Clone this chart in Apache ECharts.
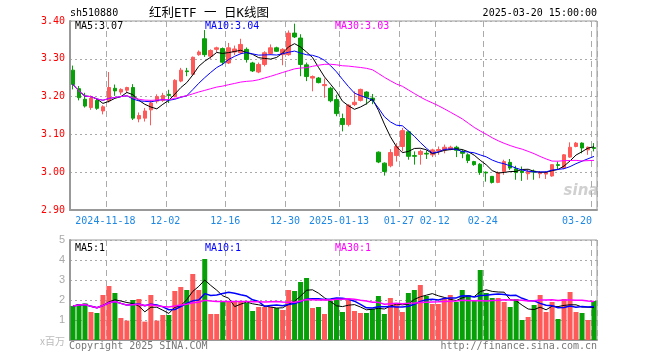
<!DOCTYPE html>
<html><head><meta charset="utf-8">
<script src="https://cdn.jsdelivr.net/npm/echarts@6/dist/echarts.min.js"></script>
<style>html,body{margin:0;padding:0;background:#fff}#c{width:660px;height:360px}</style>
</head><body><div id="c"></div>
<script>
const dates = [
'2024-11-08','2024-11-11','2024-11-12','2024-11-13','2024-11-14','2024-11-15','2024-11-18','2024-11-19','2024-11-20','2024-11-21',
'2024-11-22','2024-11-25','2024-11-26','2024-11-27','2024-11-28','2024-11-29','2024-12-02','2024-12-03','2024-12-04','2024-12-05',
'2024-12-06','2024-12-09','2024-12-10','2024-12-11','2024-12-12','2024-12-13','2024-12-16','2024-12-17','2024-12-18','2024-12-19',
'2024-12-20','2024-12-23','2024-12-24','2024-12-25','2024-12-26','2024-12-27','2024-12-30','2024-12-31','2025-01-02','2025-01-03',
'2025-01-06','2025-01-07','2025-01-08','2025-01-09','2025-01-10','2025-01-13','2025-01-14','2025-01-15','2025-01-16','2025-01-17',
'2025-01-20','2025-01-21','2025-01-22','2025-01-23','2025-01-24','2025-01-27','2025-02-05','2025-02-06','2025-02-07','2025-02-10',
'2025-02-11','2025-02-12','2025-02-13','2025-02-14','2025-02-17','2025-02-18','2025-02-19','2025-02-20','2025-02-21','2025-02-24',
'2025-02-25','2025-02-26','2025-02-27','2025-02-28','2025-03-03','2025-03-04','2025-03-05','2025-03-06','2025-03-07','2025-03-10',
'2025-03-11','2025-03-12','2025-03-13','2025-03-14','2025-03-17','2025-03-18','2025-03-19','2025-03-20'];

const openP = [
3.270,3.221,3.193,3.171,3.190,3.162,3.189,3.222,3.212,3.217,
3.224,3.141,3.143,3.165,3.188,3.190,3.206,3.200,3.241,3.268,
3.259,3.311,3.353,3.307,3.325,3.327,3.289,3.318,3.316,3.325,
3.289,3.265,3.285,3.314,3.329,3.311,3.311,3.368,3.355,3.284,
3.249,3.249,3.229,3.222,3.192,3.142,3.126,3.179,3.190,3.212,
3.196,3.053,3.024,3.017,3.044,3.068,3.107,3.044,3.047,3.050,
3.046,3.056,3.059,3.061,3.066,3.055,3.046,3.028,3.021,3.000,
2.989,2.973,3.002,3.026,3.009,3.003,2.996,3.003,2.996,2.995,
2.990,3.020,3.011,3.040,3.068,3.077,3.059,3.065];

const closeP = [
3.232,3.197,3.175,3.196,3.169,3.173,3.224,3.215,3.219,3.224,
3.143,3.150,3.162,3.183,3.200,3.203,3.203,3.243,3.270,3.266,
3.304,3.318,3.311,3.322,3.329,3.291,3.329,3.326,3.338,3.298,
3.268,3.285,3.316,3.329,3.320,3.325,3.368,3.358,3.285,3.253,
3.253,3.237,3.232,3.189,3.155,3.126,3.177,3.185,3.219,3.198,
3.190,3.027,3.002,3.052,3.068,3.110,3.042,3.042,3.055,3.048,
3.059,3.060,3.066,3.066,3.058,3.050,3.031,3.020,2.999,2.998,
2.973,2.999,3.028,3.011,2.999,2.999,3.002,3.000,2.999,2.999,
3.020,3.018,3.046,3.066,3.077,3.064,3.066,3.063];

const lowP = [
3.219,3.190,3.171,3.165,3.165,3.153,3.184,3.202,3.205,3.210,
3.138,3.132,3.134,3.124,3.182,3.186,3.183,3.198,3.238,3.254,
3.257,3.308,3.305,3.300,3.318,3.283,3.286,3.310,3.312,3.290,
3.265,3.262,3.280,3.310,3.318,3.283,3.308,3.355,3.254,3.241,
3.214,3.235,3.197,3.185,3.148,3.108,3.121,3.175,3.187,3.179,
3.180,3.024,2.991,3.013,3.028,3.055,3.033,3.020,3.020,3.035,
3.040,3.046,3.050,3.058,3.040,3.037,3.024,3.017,2.993,2.975,
2.970,2.971,2.993,3.006,2.980,2.977,2.980,2.980,2.984,2.982,
2.988,3.006,3.008,3.038,3.066,3.050,3.046,3.055];

const highP = [
3.282,3.228,3.210,3.203,3.195,3.177,3.265,3.232,3.222,3.226,
3.233,3.158,3.170,3.190,3.206,3.210,3.218,3.246,3.276,3.276,
3.306,3.322,3.376,3.325,3.332,3.330,3.342,3.335,3.353,3.330,
3.292,3.290,3.320,3.338,3.332,3.328,3.375,3.393,3.365,3.290,
3.256,3.252,3.248,3.226,3.205,3.155,3.180,3.214,3.221,3.214,
3.207,3.055,3.026,3.061,3.077,3.117,3.110,3.055,3.060,3.058,
3.062,3.068,3.073,3.070,3.070,3.060,3.050,3.030,3.024,3.002,
2.990,3.002,3.033,3.035,3.017,3.015,3.006,3.007,3.003,3.002,
3.021,3.028,3.048,3.079,3.080,3.079,3.068,3.077];

// volume in millions (x百万)
const volume = [
1.70,1.80,1.83,1.40,1.35,2.25,2.70,2.35,1.10,0.97,
2.00,2.05,0.92,2.25,0.97,1.25,1.25,2.45,2.65,2.50,
3.30,2.50,4.05,1.30,1.30,1.90,1.90,1.95,1.90,1.85,
1.45,1.65,1.65,1.65,1.60,1.50,2.50,2.45,2.90,3.10,
1.60,1.65,1.30,1.95,2.05,1.40,2.00,1.45,1.35,1.35,
1.55,2.20,1.30,2.10,1.80,1.40,2.35,2.50,2.75,2.20,
1.80,1.80,2.10,2.25,1.90,2.50,2.25,1.95,3.50,2.35,
2.10,2.10,1.90,1.65,2.05,1.00,1.15,1.75,2.25,1.40,
1.90,1.05,2.05,2.40,1.40,1.35,1.00,1.95];

const tickDates  = ['2024-11-18','2024-12-02','2024-12-16','2024-12-30','2025-01-13','2025-01-27','2025-02-12','2025-02-24','2025-03-20'];
const tickLabels = ['2024-11-18','12-02','12-16','12-30','2025-01-13','01-27','02-12','02-24','03-20'];

const maLabelsPrice = ['MA5:3.07','MA10:3.04','MA30:3.03'];
const maLabelsVol = ['MA5:1','MA10:1','MA30:1'];

const UP = '#ff5a5a', DOWN = '#08a008';
const MONO = '"DejaVu Sans Mono", monospace';

function ma(arr, k) {
  return arr.map((_, i) => {
    const s = Math.max(0, i - k + 1);
    let t = 0;
    for (let j = s; j <= i; j++) t += arr[j];
    return +(t / (i - s + 1)).toFixed(4);
  });
}

const ohlc = dates.map((d, i) => [openP[i], closeP[i], lowP[i], highP[i]]);
const volItems = volume.map((v, i) => ({
  value: v,
  itemStyle: { color: closeP[i] >= openP[i] ? UP : DOWN }
}));
const tickIdx = new Set(tickDates.map(d => dates.indexOf(d)));
const labelMap = {};
tickDates.forEach((d, i) => { labelMap[d] = tickLabels[i]; });
const lastTick = tickDates[tickDates.length - 1];

const splitV = { show: true, interval: (i) => tickIdx.has(i), lineStyle: { color: '#aaa', type: [6, 4], width: 1 } };
const axisLineStyle = { show: true, lineStyle: { color: '#999', width: 2 } };

const chart = echarts.init(document.getElementById('c'), null, { renderer: 'canvas', width: 660, height: 360 });

function lineSeries(name, data, color, xi, yi, w) {
  return { name, type: 'line', data, xAxisIndex: xi, yAxisIndex: yi, symbol: 'none', smooth: false,
    lineStyle: { color, width: w }, z: 5, silent: true };
}

function txt(x, y, text, fill, align, font) {
  return { type: 'text', x, y, z: 100, style: { text, fill, font: font || ('10px ' + MONO),
    align, textAlign: align, verticalAlign: 'middle', textVerticalAlign: 'middle' } };
}

const option = {
  animation: false,
  backgroundColor: '#fff',
  grid: [
    { left: 70, right: 63, top: 21, height: 189, show: true, borderColor: '#999', borderWidth: 1, backgroundColor: 'transparent' },
    { left: 70, right: 63, top: 240, height: 100, show: true, borderColor: '#999', borderWidth: 1, backgroundColor: 'transparent' }
  ],
  xAxis: [
    { type: 'category', gridIndex: 0, data: dates, boundaryGap: true,
      axisLine: axisLineStyle, axisTick: { show: false },
      axisLabel: {
        interval: (i) => tickIdx.has(i),
        formatter: (v) => v === lastTick ? '{r|' + labelMap[v] + '}' : '{n|' + (labelMap[v] || '') + '}',
        color: '#1e88e5', fontFamily: MONO, fontSize: 10, margin: 6,
        rich: {
          n: { color: '#1e88e5', fontFamily: MONO, fontSize: 10, padding: [0, 7, 0, 0] },
          r: { color: '#1e88e5', fontFamily: MONO, fontSize: 10, padding: [0, 34, 0, 0] }
        }
      },
      splitLine: splitV },
    { type: 'category', gridIndex: 1, data: dates, boundaryGap: true,
      axisLine: axisLineStyle, axisTick: { show: false }, axisLabel: { show: false },
      splitLine: splitV }
  ],
  yAxis: [
    { type: 'value', gridIndex: 0, min: 2.9, max: 3.4, interval: 0.1, scale: true,
      axisLine: axisLineStyle, axisTick: { show: false },
      axisLabel: { color: '#ff0000', fontFamily: MONO, fontSize: 10, margin: 5, formatter: (v) => v.toFixed(2) },
      splitLine: { show: true, lineStyle: { color: '#aaa', type: [2, 3], width: 1 } } },
    { type: 'value', gridIndex: 1, min: 0, max: 5, interval: 1,
      axisLine: axisLineStyle, axisTick: { show: false },
      axisLabel: { color: '#aaa', fontFamily: '"Liberation Sans", Arial, sans-serif', fontSize: 11, margin: 5,
        formatter: (v) => v === 0 ? '' : String(v) },
      splitLine: { show: true, lineStyle: { color: '#aaa', type: [2, 3], width: 1 } } }
  ],
  series: [
    { name: 'K', type: 'candlestick', xAxisIndex: 0, yAxisIndex: 0, data: ohlc, barWidth: 4,
      itemStyle: { color: UP, color0: DOWN, borderColor: UP, borderColor0: DOWN, borderWidth: 1 }, z: 3 },
    lineSeries('MA5', ma(closeP, 5), '#000000', 0, 0, 1),
    lineSeries('MA10', ma(closeP, 10), '#0000ff', 0, 0, 1),
    lineSeries('MA30', ma(closeP, 30), '#ff00ff', 0, 0, 1),
    { name: 'VOL', type: 'bar', xAxisIndex: 1, yAxisIndex: 1, data: volItems, barWidth: 5, z: 3 },
    lineSeries('VMA5', ma(volume, 5), '#000000', 1, 1, 1),
    lineSeries('VMA10', ma(volume, 10), '#0000ff', 1, 1, 1.5),
    lineSeries('VMA30', ma(volume, 30), '#ff00ff', 1, 1, 1.5)
  ],
  graphic: [
    txt(70, 13.5, 'sh510880', '#000', 'left'),
    txt(209, 13.5, '红利ETF 一 日K线图', '#000', 'center', '12.5px "DejaVu Sans Mono", "Noto Sans CJK SC"'),
    txt(597, 13, '2025-03-20 15:00:00', '#000', 'right'),
    txt(75, 26.5, maLabelsPrice[0], '#000', 'left'),
    txt(205, 26.5, maLabelsPrice[1], '#0000ff', 'left'),
    txt(335, 26.5, maLabelsPrice[2], '#ff00ff', 'left'),
    txt(75, 248, maLabelsVol[0], '#000', 'left'),
    txt(205, 248, maLabelsVol[1], '#0000ff', 'left'),
    txt(335, 248, maLabelsVol[2], '#ff00ff', 'left'),
    txt(69, 346, 'Copyright 2025 SINA.COM', '#777', 'left'),
    txt(597, 346, 'http://finance.sina.com.cn', '#777', 'right'),
    txt(65, 341.5, 'x百万', '#bbb', 'right', '10px "Noto Sans CJK SC", sans-serif'),
    txt(581, 191, 'sina', 'rgba(170,170,170,0.55)', 'center', 'italic bold 15px "DejaVu Sans", sans-serif')
  ]
};
chart.setOption(option);
</script>
</body></html>
